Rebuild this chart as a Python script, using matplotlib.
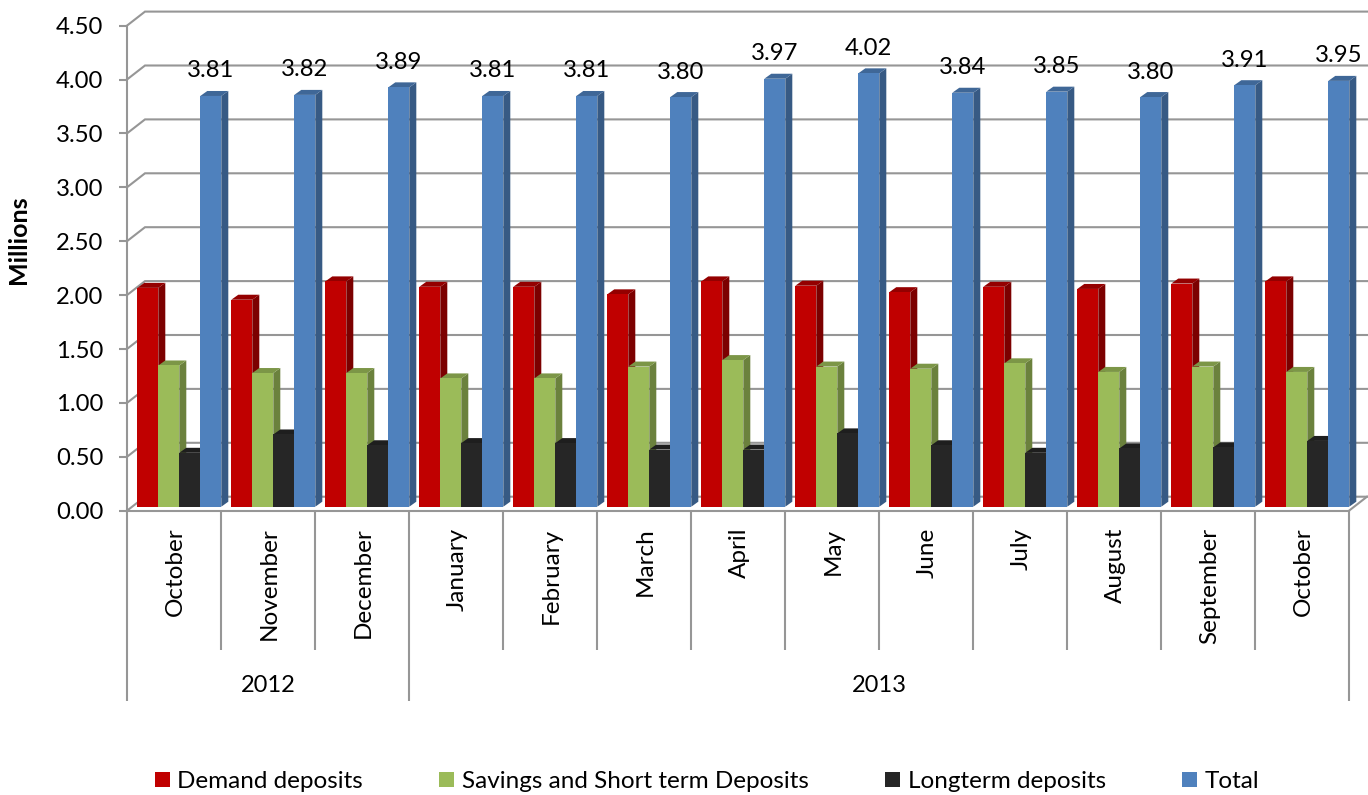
import matplotlib
matplotlib.use('Agg')
import matplotlib.pyplot as plt
from matplotlib.patches import Patch, Polygon

plt.rcParams['font.family'] = ['Lato', 'DejaVu Sans']

months = ['October', 'November', 'December', 'January', 'February', 'March', 'April',
          'May', 'June', 'July', 'August', 'September', 'October']
years = ['2012', '2013']
year_spans = [(0, 3), (3, 13)]
demand = [2.03, 1.92, 2.09, 2.04, 2.04, 1.97, 2.09, 2.05, 1.99, 2.04, 2.02, 2.07, 2.09]
savings = [1.31, 1.24, 1.24, 1.19, 1.19, 1.30, 1.36, 1.30, 1.28, 1.33, 1.25, 1.30, 1.25]
longterm = [0.50, 0.67, 0.57, 0.59, 0.59, 0.53, 0.53, 0.68, 0.57, 0.50, 0.54, 0.55, 0.61]
total = [3.81, 3.82, 3.89, 3.81, 3.81, 3.80, 3.97, 4.02, 3.84, 3.85, 3.80, 3.91, 3.95]
yticks = [0, 0.5, 1, 1.5, 2, 2.5, 3, 3.5, 4, 4.5]

W, H = 1368, 795
GREY = '#969696'
TEXT = '#000000'
series = [
    ('Demand deposits', demand, '#C00000', '#7C0000', '#940000'),
    ('Savings and Short term Deposits', savings, '#9BBB59', '#6B813D', '#7C9647'),
    ('Longterm deposits', longterm, '#262626', '#1A1A1A', '#1E1E1E'),
    ('Total', total, '#4F81BD', '#375A84', '#3F6797'),
]

fig = plt.figure(figsize=(W / 100, H / 100), dpi=100, facecolor='white')
ax = fig.add_axes([127 / W, 1 - 510.7 / H, 1222 / W, 485.1 / H])
ax.set_xlim(0, 13)
ax.set_ylim(0, 4.5)
ax.patch.set_visible(False)

# data units per pixel, for the fake 3d offsets
px = 13 / 1222
py = 4.5 / 485.1
back_dx, back_dy = 18 * px, 14 * py
depth_dx, depth_dy = 7 * px, 5 * py
bar_w = 21 * px
bar_x0 = 10.3 * px
bar_lift = 4 * py
lw = 1.5

# back wall grid and the slanted lines joining it to the axis
for v in yticks:
    ax.plot([0, back_dx, 1241 * px], [v, v + back_dy, v + back_dy], color=GREY, lw=lw,
            clip_on=False, solid_joinstyle='miter', zorder=1)
ax.plot([13, 13 + back_dx], [0, back_dy], color=GREY, lw=lw, clip_on=False, zorder=1)

for s, (name, values, front, side, top) in enumerate(series):
    z = 3 + s
    xs = [i + bar_x0 + s * bar_w + bar_w / 2 for i in range(13)]
    ax.bar(xs, values, width=bar_w, bottom=bar_lift, color=front, linewidth=0, zorder=z + 0.5,
           clip_on=False)
    for x, v in zip(xs, values):
        left, right = x - bar_w / 2, x + bar_w / 2
        tip = v + bar_lift
        ax.add_patch(Polygon([(right, bar_lift), (right + depth_dx, bar_lift + depth_dy),
                              (right + depth_dx, tip + depth_dy), (right, tip)],
                             closed=True, fc=side, ec='none', zorder=z, clip_on=False))
        ax.add_patch(Polygon([(left, tip), (left + depth_dx, tip + depth_dy),
                              (right + depth_dx, tip + depth_dy), (right, tip)],
                             closed=True, fc=top, ec='none', zorder=z, clip_on=False))

# value labels above the Total bars
for i, v in enumerate(total):
    x = i + bar_x0 + 3.5 * bar_w
    ax.annotate(f'{v:.2f}', (x, v + bar_lift), xytext=(0, 18), textcoords='offset points',
                ha='center', va='center', fontsize=17.2, color=TEXT, zorder=10, clip_on=False)

for name in ['top', 'right']:
    ax.spines[name].set_visible(False)
for name in ['left', 'bottom']:
    ax.spines[name].set_color(GREY)
    ax.spines[name].set_linewidth(lw)
    ax.spines[name].set_zorder(8)

ax.set_yticks(yticks)
ax.set_yticklabels([f'{v:.2f}' for v in yticks], fontsize=17.2, color=TEXT)
ax.tick_params(axis='y', length=6, width=lw, color=GREY, pad=11)
ax.set_xticks([])
ax.set_ylabel('Millions', fontsize=18, fontweight='bold', color=TEXT)
ax.yaxis.set_label_coords(-97 / 1222, (510.7 - 240) / 485.1)

# two level category axis below the floor
month_drop = -139 * py
year_drop = -190 * py
year_edges = {a for span in year_spans for a in span}
for i in range(14):
    ax.plot([i, i], [0, year_drop if i in year_edges else month_drop], color=GREY, lw=lw,
            clip_on=False, solid_capstyle='butt', zorder=2)
for i, m in enumerate(months):
    ax.text(i + 0.5 + 1.5 * px, -17 * py, m, rotation=90, ha='center', va='top', fontsize=17.5,
            color=TEXT)
for y, (a, b) in zip(years, year_spans):
    ax.text((a + b) / 2, -175 * py, y, ha='center', va='center', fontsize=17, color=TEXT)

handles = [Patch(fc=f, ec='none', label=n) for n, _, f, _, _ in series]
fig.legend(handles=handles, loc='center', bbox_to_anchor=(707 / W, 1 - 781.5 / H), ncol=4,
           frameon=False, fontsize=17.5, handlelength=0.62, handleheight=0.62, handletextpad=0.3,
           columnspacing=3.15, borderpad=0, borderaxespad=0, labelcolor=TEXT)

fig.savefig('out.png', dpi=100)
